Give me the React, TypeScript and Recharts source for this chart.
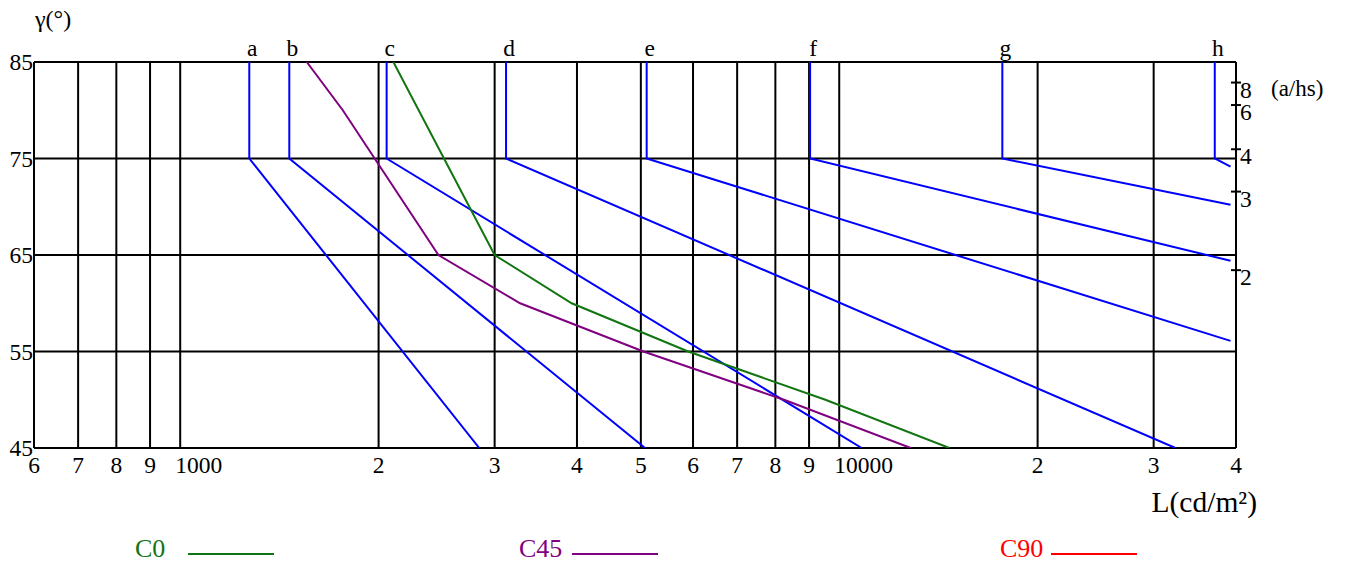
import React from 'react';
import { LineChart, Line, XAxis, YAxis, CartesianGrid, Legend } from 'recharts';

// luminance axis (log)
const xTicks = [600, 700, 800, 900, 1000, 2000, 3000, 4000, 5000, 6000, 7000, 8000, 9000, 10000, 20000, 30000, 40000];
const xTickLabels = ['6', '7', '8', '9', '1000', '2', '3', '4', '5', '6', '7', '8', '9', '10000', '2', '3', '4'];
const yTicks = [45, 55, 65, 75, 85];
// right scale a/hs
const ahsTicks = [82.87, 80.54, 75.96, 71.57, 63.43];
const ahsLabels = ['8', '6', '4', '3', '2'];

// limit curves a..h
const curveLetters = ['a', 'b', 'c', 'd', 'e', 'f', 'g', 'h'];
const curveTopL = [1273, 1464, 2057, 3122, 5103, 9032, 17680, 37140];
const curveEndL = [2843, 5074, 10818, 32370, 39240, 39240, 39240, 39240];
const curveEndGamma = [45, 45, 45, 45, 56.1, 64.4, 70.2, 74.15];

// luminaire curves
const c0L = [2106, 3000, 3927, 5900, 9528, 14694];
const c0Gamma = [85, 65, 60, 55, 50, 45];
const c45L = [1556, 1765, 2465, 3279, 5046, 8245, 12837];
const c45Gamma = [85, 80, 65, 60, 55, 50, 45];

const legendNames = ['C0', 'C45', 'C90'];
const legendColors = ['#117511', '#800080', '#ff0000'];

const FONT = '"Liberation Serif", "Times New Roman", serif';
const BLUE = '#0000ff';
const TICK_FS = 23.5;

const curves = curveLetters.map((letter, i) => ({
    letter,
    data: [
        { L: curveTopL[i], g: 85 },
        { L: curveTopL[i], g: 75 },
        { L: curveEndL[i], g: curveEndGamma[i] },
    ],
}));

const c0Data = c0L.map((L, i) => ({ L, g: c0Gamma[i] }));
const c45Data = c45L.map((L, i) => ({ L, g: c45Gamma[i] }));

// legend layout (x of label / line start, relative to chart)
const legendLabelX = [127, 511, 992];
const legendLineX = [180, 564, 1043];

const XTick = ({ x, y, payload }: any) => {
    const idx = xTicks.indexOf(payload.value);
    const label = xTickLabels[idx];
    const wide = label.length > 2;
    return (
        <text x={wide ? x - 5 : x} y={y + 25} textAnchor={wide ? 'start' : 'middle'} fontSize={TICK_FS} fontFamily={FONT} fill="#000">
            {label}
        </text>
    );
};

const LeftTick = ({ x, y, payload }: any) => (
    <text x={x} y={y + 8} textAnchor="end" fontSize={TICK_FS} fontFamily={FONT} fill="#000">
        {payload.value}
    </text>
);

const RightTick = ({ x, y, payload }: any) => {
    const idx = ahsTicks.indexOf(payload.value);
    return (
        <g>
            <line x1={x - 5} x2={x + 5} y1={y} y2={y} stroke="#000" strokeWidth={2} />
            <text x={x + 4} y={y + 15} fontSize={TICK_FS} fontFamily={FONT} fill="#000">
                {ahsLabels[idx]}
            </text>
        </g>
    );
};

const LegendContent = () => (
    <div style={{ position: 'relative', width: 1330, height: 24, fontFamily: FONT }}>
        {legendNames.map((name, i) => (
            <React.Fragment key={name}>
                <span style={{ position: 'absolute', left: legendLabelX[i], top: -4, fontSize: 26, lineHeight: '30px', color: legendColors[i] }}>
                    {name}
                </span>
                <span style={{ position: 'absolute', left: legendLineX[i], top: 15, width: 86, height: 2, background: legendColors[i] }} />
            </React.Fragment>
        ))}
    </div>
);

export default function App() {
    return (
        <div style={{ width: 1330, height: 556, overflow: 'hidden' }}>
            <LineChart width={1330} height={556} margin={{ top: 54, right: 42, bottom: 76, left: 0 }}>
                <CartesianGrid stroke="#000" strokeWidth={2} />
                <XAxis
                    type="number"
                    dataKey="L"
                    scale="log"
                    domain={[600, 40000]}
                    allowDataOverflow
                    ticks={xTicks}
                    interval={0}
                    height={40}
                    axisLine={false}
                    tickLine={false}
                    tickSize={0}
                    tickMargin={0}
                    tick={<XTick />}
                    label={{
                        content: ({ viewBox }: any) => (
                            <text x={viewBox.x + viewBox.width + 21} y={viewBox.y + 64} textAnchor="end" fontSize={29.5} fontFamily={FONT} fill="#000">
                                L(cd/m²)
                            </text>
                        ),
                    }}
                />
                <YAxis
                    type="number"
                    dataKey="g"
                    domain={[45, 85]}
                    allowDataOverflow
                    ticks={yTicks}
                    interval={0}
                    width={26}
                    axisLine={false}
                    tickLine={false}
                    tickSize={0}
                    tickMargin={1}
                    tick={<LeftTick />}
                    label={{
                        content: ({ viewBox }: any) => (
                            <text x={viewBox.x + 27} y={viewBox.y - 35} fontSize={24} fontFamily={FONT} fill="#000">
                                γ(°)
                            </text>
                        ),
                    }}
                />
                <YAxis
                    yAxisId="r"
                    orientation="right"
                    type="number"
                    domain={[45, 85]}
                    allowDataOverflow
                    ticks={ahsTicks}
                    interval={0}
                    width={60}
                    axisLine={false}
                    tickLine={false}
                    tickSize={0}
                    tickMargin={0}
                    tick={<RightTick />}
                    label={{
                        content: ({ viewBox }: any) => (
                            <text x={viewBox.x + 35} y={viewBox.y + 34} fontSize={23} fontFamily={FONT} fill="#000">
                                (a/hs)
                            </text>
                        ),
                    }}
                />
                <Legend
                    verticalAlign="middle"
                    content={<LegendContent />}
                    wrapperStyle={{ top: 530, left: 0, width: 1330 }}
                />
                {curves.map(c => (
                    <Line
                        key={c.letter}
                        data={c.data}
                        dataKey="g"
                        type="linear"
                        stroke={BLUE}
                        strokeWidth={2}
                        dot={false}
                        isAnimationActive={false}
                        legendType="none"
                        label={(p: any) =>
                            p.index === 0 ? (
                                <text key={c.letter} x={p.x + 3} y={p.y - 6} textAnchor="middle" fontSize={TICK_FS} fontFamily={FONT} fill="#000">
                                    {c.letter}
                                </text>
                            ) : (
                                <g key={c.letter + p.index} />
                            )
                        }
                    />
                ))}
                <Line data={c45Data} dataKey="g" name="C45" type="linear" stroke={legendColors[1]} strokeWidth={2} dot={false} isAnimationActive={false} />
                <Line data={c0Data} dataKey="g" name="C0" type="linear" stroke={legendColors[0]} strokeWidth={2} dot={false} isAnimationActive={false} />
            </LineChart>
        </div>
    );
}
